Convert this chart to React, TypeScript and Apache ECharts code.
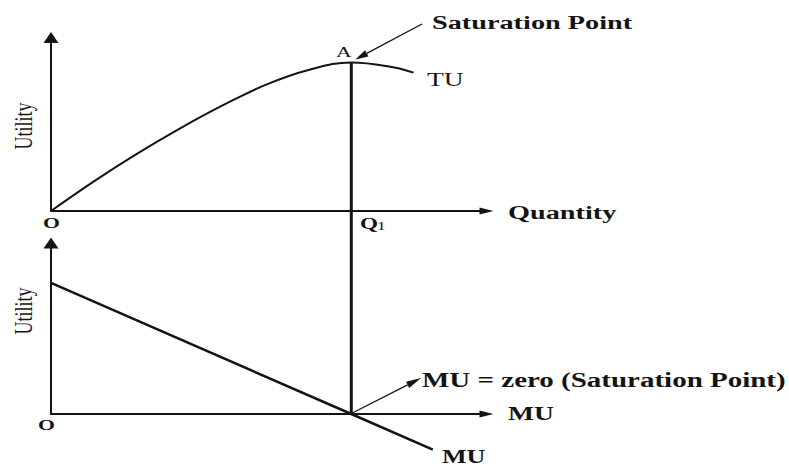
import React, { useEffect, useRef } from "react";
import * as echarts from "echarts";

// ---- data (abstract units) ----
const quantityTU = [0, 1, 2, 3, 4, 5, 6, 7, 8, 8.45];
const totalUtility = [0, 2.05, 3.95, 5.7, 7.3, 8.72, 9.75, 10.27, 9.93, 9.57];
const quantityMU = [0, 7, 8.9];
const marginalUtility = [9.2, 0, -2.5];
const saturationQ = 7;
const xMax = 10;
const yMax = 12;

const INK = "#141414";
const SERIF = '"Liberation Serif", "Times New Roman", serif';
const SX = 1.45;

function arrow(x1: number, y1: number, x2: number, y2: number, len: number, halfW: number, lw: number) {
  const dx = x2 - x1, dy = y2 - y1;
  const L = Math.hypot(dx, dy);
  const ux = dx / L, uy = dy / L;
  const bx = x2 - ux * len, by = y2 - uy * len;
  return [
    { type: "line", z: 5, shape: { x1, y1, x2: bx, y2: by }, style: { stroke: INK, lineWidth: lw } },
    {
      type: "polygon", z: 5,
      shape: { points: [[x2, y2], [bx - uy * halfW, by + ux * halfW], [bx + uy * halfW, by - ux * halfW]] },
      style: { fill: INK },
    },
  ];
}

function txt(text: string, x: number, y: number, size: number, weight: string, extra: any = {}) {
  return {
    type: "text", x, y, scaleX: SX, z: 10, ...extra,
    style: {
      text, fill: INK, fontSize: size, fontFamily: SERIF, fontWeight: weight,
      align: "left", verticalAlign: "middle", textAlign: "left", textVerticalAlign: "middle",
      ...(extra.style || {}),
    },
  };
}

function xAxis(gridIndex: number) {
  return {
    type: "value", gridIndex, min: 0, max: xMax,
    axisLine: {
      show: true, onZero: false, symbol: ["none", "triangle"], symbolSize: [7, 14], symbolOffset: [0, 6.5],
      lineStyle: { color: INK, width: 2 },
    },
    axisTick: { show: false }, axisLabel: { show: false }, splitLine: { show: false },
  };
}
function yAxis(gridIndex: number) {
  return {
    type: "value", gridIndex, min: 0, max: yMax,
    axisLine: {
      show: true, onZero: false, symbol: ["none", "triangle"], symbolSize: [15, 11],
      lineStyle: { color: INK, width: 2 },
    },
    axisTick: { show: false }, axisLabel: { show: false }, splitLine: { show: false },
  };
}

function utilityLabel(y: number) {
  return {
    type: "text", x: 23, y, rotation: Math.PI / 2, scaleY: SX, z: 10,
    style: {
      text: "Utility", fill: INK, fontSize: 18, fontFamily: SERIF,
      align: "center", verticalAlign: "middle", textAlign: "center", textVerticalAlign: "middle",
    },
  };
}

export default function App() {
  const ref = useRef<HTMLDivElement>(null);
  useEffect(() => {
    const chart = echarts.init(ref.current!, undefined, { renderer: "svg" });
    chart.setOption({
      animation: false,
      backgroundColor: "#ffffff",
      grid: [
        { left: 51, top: 37.5, width: 429, height: 173.5 },
        { left: 51, top: 243, width: 429, height: 171 },
      ],
      xAxis: [xAxis(0), xAxis(1)],
      yAxis: [yAxis(0), yAxis(1)],
      series: [
        {
          type: "line", name: "TU", xAxisIndex: 0, yAxisIndex: 0, smooth: 0.4, showSymbol: false, clip: false,
          lineStyle: { color: INK, width: 2 },
          data: quantityTU.map((q, i) => [q, totalUtility[i]]),
        },
        {
          type: "line", name: "MU", xAxisIndex: 1, yAxisIndex: 1, showSymbol: false, clip: false,
          lineStyle: { color: INK, width: 2.5 },
          data: quantityMU.map((q, i) => [q, marginalUtility[i]]),
        },
      ],
    });

    const tuPeak = totalUtility[quantityTU.indexOf(saturationQ)];
    const A = chart.convertToPixel({ gridIndex: 0 }, [saturationQ, tuPeak]) as number[];
    const B = chart.convertToPixel({ gridIndex: 1 }, [saturationQ, 0]) as number[];

    const graphic: any[] = [
      { type: "line", z: 4, shape: { x1: A[0], y1: A[1], x2: B[0], y2: B[1] }, style: { stroke: INK, lineWidth: 3 } },
      ...arrow(422, 24, A[0] + 4, A[1] - 3, 13, 3.5, 1.3),
      ...arrow(B[0] + 1, B[1] - 1, 421, 378, 15, 3.5, 1.3),
      txt("Saturation Point", 432, 22, 19.5, "bold"),
      txt("TU", 427, 80, 19, "normal"),
      txt("A", 336, 52, 15, "normal"),
      txt("Quantity", 508, 212, 19.5, "bold"),
      txt("Q", 360, 223, 16, "bold"),
      txt("1", 377, 226, 12, "normal"),
      txt("O", 43, 223, 15, "bold"),
      txt("O", 38, 425, 15, "bold"),
      txt("MU = zero (Saturation Point)", 422, 380, 20, "bold"),
      txt("MU", 508, 414, 19, "bold"),
      txt("MU", 442, 457, 18, "bold"),
      utilityLabel(126),
      utilityLabel(311),
    ];
    chart.setOption({ graphic });
    return () => chart.dispose();
  }, []);
  return <div ref={ref} style={{ position: "fixed", left: 0, top: 0, width: 789, height: 466 }} />;
}
